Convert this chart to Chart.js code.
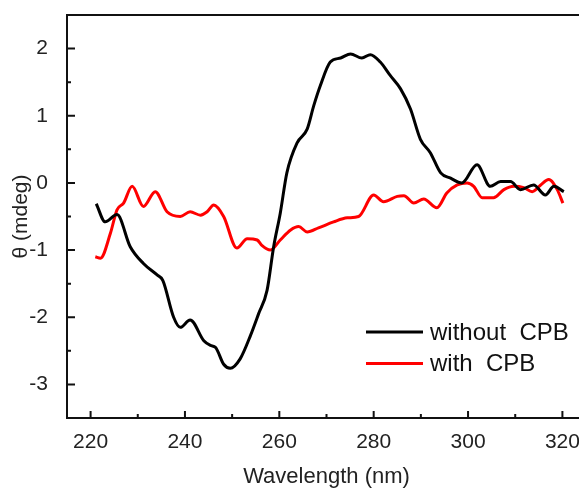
<!DOCTYPE html>
<html>
<head>
<meta charset="utf-8">
<script src="https://cdn.jsdelivr.net/npm/chart.js@4/dist/chart.umd.min.js"></script>
<style>
  html, body { margin: 0; padding: 0; background: #fff; overflow: hidden; }
  #wrap { width: 600px; height: 489px; }
</style>
</head>
<body>
<div id="wrap"><canvas id="chart" width="600" height="489"></canvas></div>
<script>
// CD spectra
var blackX = [221.2, 223.1, 225.6, 228.4, 231.2, 234.1, 235.3, 237.6, 239.0, 241.1,
              244.0, 245.4, 246.5, 248.2, 249.6, 251.7, 253.9, 255.6, 257.4, 258.8,
              260.2, 261.6, 263.8, 265.9, 267.3, 268.7, 270.8, 273.0, 275.1, 277.5,
              279.3, 281.4, 283.5, 285.7, 287.8, 289.9, 292.0, 294.2, 296.3, 298.7,
              301.9, 304.7, 306.9, 309.0, 311.1, 313.9, 316.4, 318.2, 320.3];
var blackY = [-0.31, -0.58, -0.47, -0.95, -1.2, -1.37, -1.45, -2.0, -2.15, -2.04,
              -2.35, -2.42, -2.45, -2.7, -2.76, -2.62, -2.27, -1.95, -1.6, -0.95,
              -0.45, 0.15, 0.6, 0.8, 1.15, 1.45, 1.8, 1.86, 1.92, 1.86,
              1.91, 1.8, 1.6, 1.4, 1.1, 0.65, 0.45, 0.15, 0.07, 0,
              0.27, -0.05, 0.02, 0.02, -0.1, -0.03, -0.18, -0.05, -0.13];

var redX = [221.0, 222.1, 224.2, 225.6, 227.0, 228.8, 231.2, 233.7, 236.2, 239.0,
            241.1, 243.3, 244.7, 246.1, 248.2, 251.0, 253.2, 255.3, 256.3, 258.1,
            260.2, 262.4, 264.1, 265.9, 268.3, 271.5, 274.4, 276.8, 280.0, 282.1,
            285.0, 286.4, 288.5, 290.6, 293.4, 295.5, 297.7, 299.8, 301.2, 303.0,
            305.4, 307.6, 309.7, 311.8, 313.6, 315.4, 317.1, 318.9, 320.1];
var redY = [-1.1, -1.12, -0.75, -0.4, -0.3, -0.05, -0.35, -0.13, -0.43, -0.5,
            -0.43, -0.48, -0.43, -0.33, -0.5, -0.97, -0.83, -0.85, -0.93, -1.0,
            -0.85, -0.7, -0.65, -0.73, -0.67, -0.58, -0.52, -0.5, -0.18, -0.28,
            -0.2, -0.19, -0.3, -0.24, -0.37, -0.15, -0.03, 0, -0.05, -0.22,
            -0.22, -0.1, -0.05, -0.07, -0.13, -0.03, 0.05, -0.1, -0.3];

var seriesLabels = ['without  CPB', 'with  CPB'];
var xTicks = [220, 240, 260, 280, 300, 320];
var xMinor = [230, 250, 270, 290, 310];
var yTicks = [-3, -2, -1, 0, 1, 2];
var yMinor = [-2.5, -1.5, -0.5, 0.5, 1.5];

var FONT = '"Liberation Sans", Arial, sans-serif';

function pts(xs, ys) {
  return xs.map(function (x, i) { return { x: x, y: ys[i] }; });
}

// box + inward ticks
var framePlugin = {
  id: 'frame',
  afterDraw: function (chart) {
    var ctx = chart.ctx, a = chart.chartArea;
    var xs = chart.scales.x, ys = chart.scales.y;
    ctx.save();
    ctx.strokeStyle = '#111';
    ctx.lineWidth = 2;
    ctx.strokeRect(a.left, a.top, a.right - a.left, a.bottom - a.top);
    ctx.beginPath();
    xTicks.forEach(function (v) { var p = xs.getPixelForValue(v); ctx.moveTo(p, a.bottom); ctx.lineTo(p, a.bottom - 7); });
    xMinor.forEach(function (v) { var p = xs.getPixelForValue(v); ctx.moveTo(p, a.bottom); ctx.lineTo(p, a.bottom - 4); });
    yTicks.forEach(function (v) { var p = ys.getPixelForValue(v); ctx.moveTo(a.left, p); ctx.lineTo(a.left + 8, p); });
    yMinor.forEach(function (v) { var p = ys.getPixelForValue(v); ctx.moveTo(a.left, p); ctx.lineTo(a.left + 4, p); });
    ctx.stroke();
    ctx.restore();
  }
};

// legend inside the plot
var legendPlugin = {
  id: 'insideLegend',
  afterDraw: function (chart) {
    var ctx = chart.ctx;
    var x0 = 366, x1 = 423, y0 = 332, dy = 31.5;
    ctx.save();
    ctx.font = '24px ' + FONT;
    ctx.textBaseline = 'middle';
    chart.data.datasets.forEach(function (ds, i) {
      var y = y0 + i * dy;
      ctx.strokeStyle = ds.borderColor;
      ctx.lineWidth = 3;
      ctx.beginPath();
      ctx.moveTo(x0, y);
      ctx.lineTo(x1, y);
      ctx.stroke();
      ctx.fillStyle = '#111';
      ctx.fillText(ds.label, 430, y + 1);
    });
    ctx.restore();
  }
};

var config = {
  type: 'line',
  data: {
    datasets: [{
      label: seriesLabels[0],
      data: pts(blackX, blackY),
      borderColor: '#000000',
      borderWidth: 3,
      pointRadius: 0,
      cubicInterpolationMode: 'monotone'
    }, {
      label: seriesLabels[1],
      data: pts(redX, redY),
      borderColor: '#ff0000',
      borderWidth: 3,
      pointRadius: 0,
      cubicInterpolationMode: 'monotone'
    }]
  },
  options: {
    responsive: false,
    animation: false,
    layout: { padding: { top: 15, right: 14, left: 0, bottom: 0 } },
    plugins: {
      legend: { display: false },
      tooltip: { enabled: false }
    },
    scales: {
      x: {
        type: 'linear',
        min: 215,
        max: 325,
        grid: { display: false },
        border: { display: false },
        afterBuildTicks: function (s) { s.ticks = xTicks.map(function (v) { return { value: v }; }); },
        afterFit: function (s) { s.height = 71; s.paddingLeft = 0; s.paddingRight = 0; },
        ticks: { color: '#222', font: { family: FONT, size: 21 }, padding: 4, maxRotation: 0 },
        title: { display: true, text: 'Wavelength (nm)', color: '#222', font: { family: FONT, size: 22 }, padding: { top: 4, bottom: -1 } }
      },
      y: {
        min: -3.5,
        max: 2.5,
        grid: { display: false },
        border: { display: false },
        afterBuildTicks: function (s) { s.ticks = yTicks.map(function (v) { return { value: v }; }); },
        afterFit: function (s) { s.width = 67; s.paddingTop = 0; s.paddingBottom = 0; },
        ticks: { color: '#222', font: { family: FONT, size: 21 }, padding: 11 },
        title: { display: true, text: 'θ (mdeg)', color: '#222', font: { family: FONT, size: 21 }, padding: { top: 9, bottom: 2 } }
      }
    }
  },
  plugins: [framePlugin, legendPlugin]
};

window.onload = function () {
  var ctx = document.getElementById('chart').getContext('2d');
  window.myChart = new Chart(ctx, config);
};
</script>
</body>
</html>
